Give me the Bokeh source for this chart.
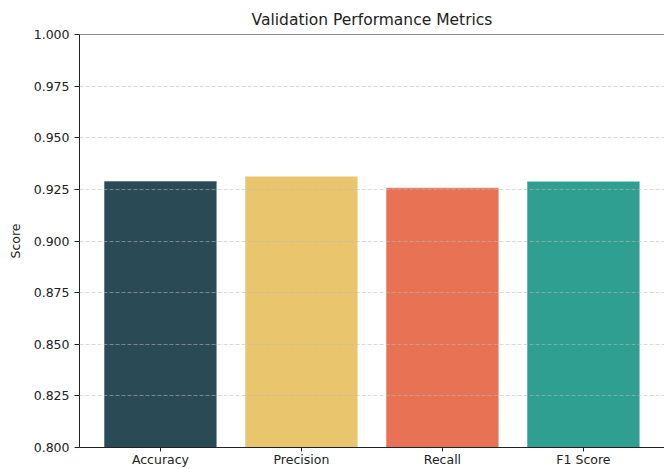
from bokeh.plotting import figure
from bokeh.models import Range1d, FixedTicker, Span, ColumnDataSource
from bokeh.embed import file_html
from bokeh.resources import INLINE

metrics = ["Accuracy", "Precision", "Recall", "F1 Score"]
scores = [0.9290, 0.9314, 0.9258, 0.9289]
colors = ["#264653", "#e9c46a", "#e76f51", "#2a9d8f"]
y_ticks = [0.800, 0.825, 0.850, 0.875, 0.900, 0.925, 0.950, 0.975, 1.000]

FONT = "DejaVu Sans"

xs = list(range(len(metrics)))
src = ColumnDataSource(dict(x=xs, top=scores, color=colors, name=metrics))

p = figure(width=664, height=469, output_backend="svg", toolbar_location=None,
           x_range=Range1d(-0.574, 3.575), y_range=Range1d(0.8, 1.0),
           min_border_left=79, min_border_top=34, min_border_right=0, min_border_bottom=22,
           title="Validation Performance Metrics")

p.vbar(x="x", top="top", bottom=0.8, width=0.8, fill_color="color", fill_alpha=0.98,
       line_color="white", line_alpha=0.5, line_width=1, source=src)

p.title.text_font = FONT
p.title.text_font_size = "15.5px"
p.title.text_font_style = "normal"
p.title.text_color = "#222222"
p.title.align = "center"
p.title.standoff = 12
p.title.offset = 0

p.outline_line_color = None
p.add_layout(Span(location=1.0, dimension="width", line_color="#222222", line_width=1))

p.xgrid.visible = False
p.ygrid.grid_line_color = "#bbbbbb"
p.ygrid.grid_line_alpha = 0.55
p.ygrid.grid_line_dash = "4 2"
p.ygrid.grid_line_width = 1
p.ygrid.level = "annotation"
p.ygrid.ticker = FixedTicker(ticks=y_ticks)

p.yaxis.ticker = FixedTicker(ticks=y_ticks)
p.yaxis.major_label_overrides = {t: f"{t:.3f}" for t in y_ticks}
p.yaxis.axis_label = "Score"
p.yaxis.axis_label_text_font = FONT
p.yaxis.axis_label_text_font_size = "12.5px"
p.yaxis.axis_label_text_font_style = "normal"
p.yaxis.axis_label_text_color = "#222222"
p.yaxis.axis_label_standoff = 8

p.xaxis.ticker = FixedTicker(ticks=xs)
p.xaxis.major_label_overrides = {i: m for i, m in zip(xs, metrics)}

for ax in (p.xaxis[0], p.yaxis[0]):
    ax.major_label_text_font = FONT
    ax.major_label_text_font_size = "12.5px"
    ax.major_label_text_color = "#222222"
    ax.axis_line_color = "#222222"
    ax.major_tick_line_color = "#222222"
    ax.major_tick_out = 5
    ax.major_tick_in = 0
    ax.minor_tick_line_color = None
    ax.major_label_standoff = 5

p.xaxis.major_tick_out = 4
p.xaxis.major_label_standoff = 0
p.xaxis.major_label_text_line_height = 1.0

open("out.html", "w").write(file_html(p, INLINE))
